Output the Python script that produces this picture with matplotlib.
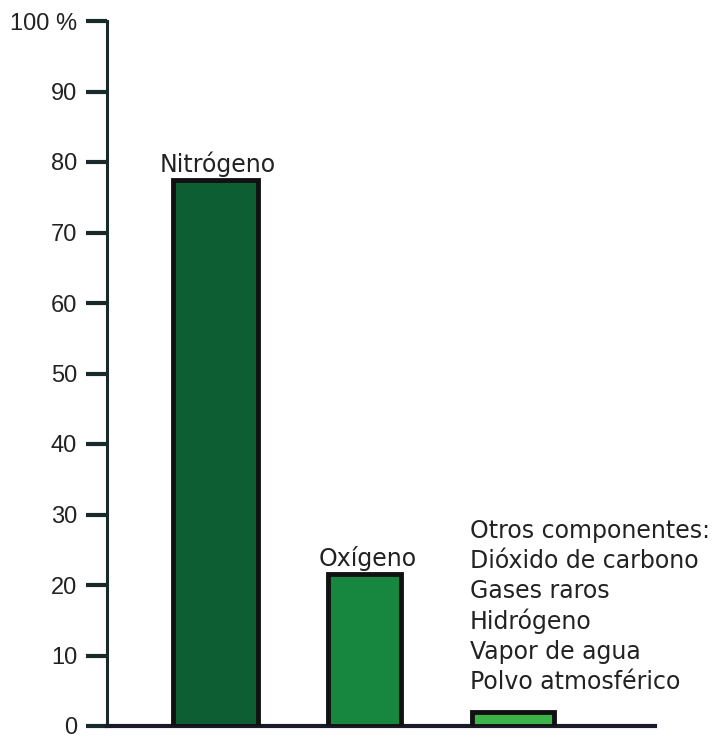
import matplotlib.pyplot as plt

componentes = ["Nitrógeno", "Oxígeno", "Otros"]
porcentajes = [77.5, 21.5, 2]
etiquetas = ["Nitrógeno", "Oxígeno", ""]
otros = ["Otros componentes:", "Dióxido de carbono", "Gases raros",
         "Hidrógeno", "Vapor de agua", "Polvo atmosférico"]
ticks_y = [0, 10, 20, 30, 40, 50, 60, 70, 80, 90, 100]
ticks_lbl = ["0", "10", "20", "30", "40", "50", "60", "70", "80", "90", "100 %"]

colores = ["#0e5e34", "#17873f", "#3cb44a"]
anchos = [0.57, 0.49, 0.55]

plt.rcParams['font.family'] = ['Liberation Sans', 'DejaVu Sans']

fig = plt.figure(figsize=(7.18, 7.40), dpi=100)
ax = fig.add_axes([107/718, 1 - 726/740, (655 - 107)/718, (726 - 21)/740])

x = list(range(len(componentes)))
ax.bar(x, porcentajes, width=anchos, color=colores, edgecolor="#111111",
       linewidth=3.5, zorder=3)

for xi, v, lbl in zip(x, porcentajes, etiquetas):
    if lbl:
        ax.text(xi + 0.02, v + 2.2, lbl, ha="center", va="center",
                fontsize=17, family="DejaVu Sans", color="#222222")

# lista de otros componentes
for i, t in enumerate(otros):
    ax.text(1.71, 27.6 - i * 4.26, t, ha="left", va="center", fontsize=17,
            family="DejaVu Sans", color="#222222")

ax.set_xlim(-0.725, 2.95)
ax.set_ylim(0, 100)
ax.set_yticks(ticks_y)
ax.set_yticklabels(ticks_lbl, fontsize=17, color="#222222")
ax.set_xticks([])
ax.tick_params(axis="y", length=15, width=3, color="#1a2a2a", pad=6.5)

for s in ["top", "right"]:
    ax.spines[s].set_visible(False)
ax.spines["left"].set_linewidth(2.2)
ax.spines["bottom"].set_linewidth(3)
ax.spines["left"].set_color("#1a2a2a")
ax.spines["bottom"].set_color("#1a1a2a")
for sp in ax.spines.values():
    sp.set_clip_on(False)

fig.savefig("out.png", dpi=100)
